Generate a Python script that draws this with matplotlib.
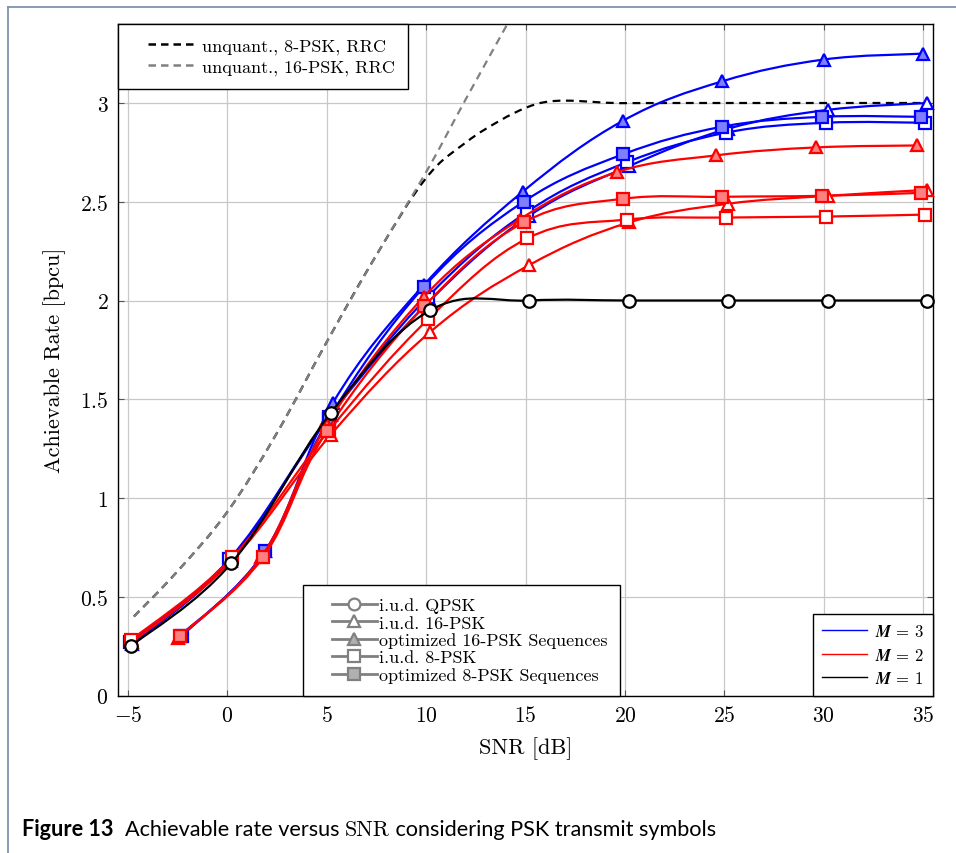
import numpy as np
import matplotlib
matplotlib.use("Agg")
import matplotlib.pyplot as plt
from matplotlib.path import Path
from matplotlib.patches import PathPatch
from matplotlib.lines import Line2D
from matplotlib.legend_handler import HandlerLine2D

plt.rcParams["mathtext.fontset"] = "cm"
plt.rcParams["font.family"] = ["cmr10", "DejaVu Serif"]
plt.rcParams["axes.formatter.use_mathtext"] = True

# Unquantized reference curves (RRC pulse)
snr_rrc16 = [-4.7, -2.5, 0, 2.5, 5, 7.5, 10, 12, 14.2]
rate_rrc16 = [0.40, 0.63, 0.93, 1.33, 1.79, 2.23, 2.65, 3.02, 3.42]
snr_rrc8 = [-4.7, -2.5, 0, 2.5, 5, 7.5, 10, 12, 13.7, 15, 16, 17, 18, 19.5, 22, 35.2]
rate_rrc8 = [0.40, 0.63, 0.93, 1.33, 1.79, 2.23, 2.62, 2.80, 2.91, 2.975, 3.005,
             3.012, 3.008, 3.0, 3.0, 3.0]

# M = 3
snr_iud16_m3 = [-4.8, 0.2, 5.2, 10.2, 15.2, 20.2, 25.2, 30.2, 35.2]
rate_iud16_m3 = [0.26, 0.69, 1.42, 2.00, 2.43, 2.68, 2.87, 2.965, 3.00]
snr_opt16_m3 = [-2.4, 1.9, 5.3, 9.9, 14.85, 19.9, 24.9, 30.0, 35.0]
rate_opt16_m3 = [0.30, 0.73, 1.48, 2.08, 2.55, 2.91, 3.11, 3.22, 3.25]
snr_iud8_m3 = [-4.9, 0.1, 5.1, 10.1, 15.1, 20.1, 25.1, 30.1, 35.1]
rate_iud8_m3 = [0.27, 0.69, 1.41, 2.02, 2.45, 2.70, 2.85, 2.90, 2.90]
snr_opt8_m3 = [-2.3, 1.9, 5.1, 9.9, 14.9, 19.9, 24.9, 29.9, 34.9]
rate_opt8_m3 = [0.30, 0.73, 1.40, 2.07, 2.50, 2.74, 2.88, 2.93, 2.93]

# M = 2
snr_iud16_m2 = [-4.8, 0.2, 5.2, 10.2, 15.2, 20.2, 25.2, 30.2, 35.2]
rate_iud16_m2 = [0.27, 0.68, 1.32, 1.84, 2.18, 2.395, 2.49, 2.53, 2.56]
snr_opt16_m2 = [-2.5, 1.7, 5.0, 9.9, 14.7, 19.6, 24.6, 29.6, 34.7]
rate_opt16_m2 = [0.29, 0.70, 1.37, 2.02, 2.41, 2.65, 2.735, 2.775, 2.785]
snr_iud8_m2 = [-4.85, 0.25, 5.1, 10.1, 15.1, 20.1, 25.1, 30.1, 35.1]
rate_iud8_m2 = [0.28, 0.70, 1.34, 1.905, 2.315, 2.41, 2.42, 2.425, 2.435]
snr_opt8_m2 = [-2.4, 1.8, 5.0, 9.9, 14.9, 19.9, 24.9, 29.9, 34.9]
rate_opt8_m2 = [0.30, 0.70, 1.34, 1.97, 2.395, 2.515, 2.525, 2.53, 2.545]

# M = 1
snr_qpsk_m1 = [-4.85, 0.2, 5.2, 10.2, 15.2, 20.2, 25.2, 30.2, 35.2]
rate_qpsk_m1 = [0.25, 0.67, 1.43, 1.95, 2.0, 2.0, 2.0, 2.0, 2.0]

x_ticks = [-5, 0, 5, 10, 15, 20, 25, 30, 35]
y_ticks = [0, 0.5, 1, 1.5, 2, 2.5, 3]

BLUE = "#0000ff"
RED = "#ff0000"
BLUE_FILL = "#8080ff"
RED_FILL = "#ff8080"
GRAY = "#808080"


def smooth_path(xs, ys, tension=0.55):
    # Bezier curve through the points, similar to pgfplots "smooth"
    pts = np.column_stack([xs, ys]).astype(float)
    n = len(pts)
    verts = [pts[0]]
    codes = [Path.MOVETO]
    k = tension / 3.0
    for i in range(n - 1):
        p0 = pts[i - 1] if i > 0 else pts[i]
        p1 = pts[i]
        p2 = pts[i + 1]
        p3 = pts[i + 2] if i + 2 < n else pts[i + 1]
        verts += [p1 + (p2 - p0) * k, p2 - (p3 - p1) * k, p2]
        codes += [Path.CURVE4] * 3
    return Path(verts, codes)


def draw_curve(ax, xs, ys, color, z, marker=None, face="white", ls="-", lw=1.6, ms=8.5):
    patch = PathPatch(smooth_path(xs, ys), fill=False, edgecolor=color, lw=lw,
                      linestyle=ls, zorder=z, capstyle="butt")
    ax.add_patch(patch)
    if marker is not None:
        ax.plot(xs, ys, ls="none", marker=marker, ms=ms, mfc=face, mec=color,
                mew=1.6, zorder=z + 0.5, clip_on=False)


fig = plt.figure(figsize=(9.56, 8.54), dpi=100)
ax = fig.add_axes([118 / 956, 1 - 696.5 / 854, 815 / 956, 671.5 / 854])

ax.set_xlim(-5.5, 35.5)
ax.set_ylim(0, 3.4)
ax.set_xticks(x_ticks, labels=[f"${v}$" for v in x_ticks])
ax.set_yticks(y_ticks, labels=[f"${v:g}$" for v in y_ticks])
ax.tick_params(direction="in", length=4, width=0.8, color="#555555", labelsize=15.5,
               top=True, right=True, pad=7)
ax.grid(True, color="#c8c8c8", lw=0.9)
ax.set_axisbelow(True)
for s in ax.spines.values():
    s.set_linewidth(1.0)

ax.set_xlabel("SNR [dB]", fontsize=16, labelpad=8)
ax.set_ylabel("Achievable Rate [bpcu]", fontsize=16, labelpad=10)

# reference curves
draw_curve(ax, snr_rrc8, rate_rrc8, "black", 2, ls=(0, (3.5, 2.5)), lw=1.6)
draw_curve(ax, snr_rrc16, rate_rrc16, GRAY, 2.2, ls=(0, (3.5, 2.5)), lw=1.6)

# M = 3
draw_curve(ax, snr_iud16_m3, rate_iud16_m3, BLUE, 3, "^")
draw_curve(ax, snr_opt16_m3, rate_opt16_m3, BLUE, 3.1, "^", BLUE_FILL)
draw_curve(ax, snr_iud8_m3, rate_iud8_m3, BLUE, 3.2, "s")
draw_curve(ax, snr_opt8_m3, rate_opt8_m3, BLUE, 3.3, "s", BLUE_FILL)

# M = 2
draw_curve(ax, snr_iud16_m2, rate_iud16_m2, RED, 4, "^")
draw_curve(ax, snr_opt16_m2, rate_opt16_m2, RED, 4.1, "^", RED_FILL)
draw_curve(ax, snr_iud8_m2, rate_iud8_m2, RED, 4.2, "s")
draw_curve(ax, snr_opt8_m2, rate_opt8_m2, RED, 4.3, "s", RED_FILL)

# M = 1
draw_curve(ax, snr_qpsk_m1, rate_qpsk_m1, "black", 5, "o", ms=9)

# legends
leg_font = {"family": ["cmr10", "DejaVu Serif"], "size": 13}
padded = HandlerLine2D(xpad=0.9)

h_ref = [Line2D([], [], color="black", lw=1.8, ls=(0, (3, 2))),
         Line2D([], [], color=GRAY, lw=1.8, ls=(0, (3, 2)))]
leg1 = ax.legend(h_ref, ["unquant., 8-PSK, RRC", "unquant., 16-PSK, RRC"],
                 loc="upper left", bbox_to_anchor=(0, 1), borderaxespad=0,
                 prop=leg_font, fancybox=False, edgecolor="black", framealpha=1,
                 handlelength=3.4, handletextpad=0.5, borderpad=0.75, labelspacing=0.3,
                 handler_map={Line2D: padded})
leg1.get_frame().set_linewidth(1.0)
leg1.set_zorder(10)
ax.add_artist(leg1)

h_mark = [
    Line2D([], [], color=GRAY, lw=2, marker="o", ms=8.5, mfc="white", mec=GRAY, mew=1.6),
    Line2D([], [], color=GRAY, lw=2, marker="^", ms=8.5, mfc="white", mec=GRAY, mew=1.6),
    Line2D([], [], color=GRAY, lw=2, marker="^", ms=8.5, mfc="#b0b0b0", mec=GRAY, mew=1.6),
    Line2D([], [], color=GRAY, lw=2, marker="s", ms=8.5, mfc="white", mec=GRAY, mew=1.6),
    Line2D([], [], color=GRAY, lw=2, marker="s", ms=8.5, mfc="#b0b0b0", mec=GRAY, mew=1.6),
]
leg2 = ax.legend(h_mark, ["i.u.d. QPSK", "i.u.d. 16-PSK", "optimized 16-PSK Sequences",
                          "i.u.d. 8-PSK", "optimized 8-PSK Sequences"],
                 loc="lower left", bbox_to_anchor=(0.227, 0), borderaxespad=0,
                 prop=leg_font, fancybox=False, edgecolor="black", framealpha=1,
                 handlelength=3.4, handletextpad=0.1, borderpad=0.7, labelspacing=0.09,
                 numpoints=1, handler_map={Line2D: padded})
leg2.get_frame().set_linewidth(1.0)
leg2.set_zorder(10)
ax.add_artist(leg2)

h_m = [Line2D([], [], color=BLUE, lw=1.0),
       Line2D([], [], color=RED, lw=1.0),
       Line2D([], [], color="black", lw=1.0)]
leg3 = ax.legend(h_m, [r"$\mathbfit{M}$ = 3", r"$\mathbfit{M}$ = 2", r"$\mathbfit{M}$ = 1"],
                 loc="lower right", bbox_to_anchor=(1, 0), borderaxespad=0,
                 prop={"family": ["cmr10", "DejaVu Serif"], "size": 12},
                 fancybox=False, edgecolor="black", framealpha=1,
                 handlelength=2.7, handletextpad=0.45, borderpad=0.55, labelspacing=0.45)
leg3.get_frame().set_linewidth(1.0)
leg3.set_zorder(10)

# outer frame
frame_col = "#7f93ad"
fig.add_artist(Line2D([8 / 956, 8 / 956], [0, 1 - 8 / 854], transform=fig.transFigure,
                      color=frame_col, lw=1.3))
fig.add_artist(Line2D([8 / 956, 1], [1 - 8 / 854, 1 - 8 / 854], transform=fig.transFigure,
                      color=frame_col, lw=1.3))

# caption
renderer = fig.canvas.get_renderer()
cap_y = 1 - 830 / 854
x = 22 / 956
parts = [("Figure 13", "Lato", "bold", 15.6), ("  Achievable rate versus ", "Lato", "normal", 15.6),
         ("SNR", "cmr10", "normal", 15.8), (" considering PSK transmit symbols", "Lato", "normal", 15.6)]
for txt, fam, wt, sz in parts:
    t = fig.text(x, cap_y, txt, family=fam, weight=wt, fontsize=sz, va="center", ha="left")
    bb = t.get_window_extent(renderer)
    x = bb.x1 / fig.bbox.width

fig.savefig("out.png", dpi=100)
